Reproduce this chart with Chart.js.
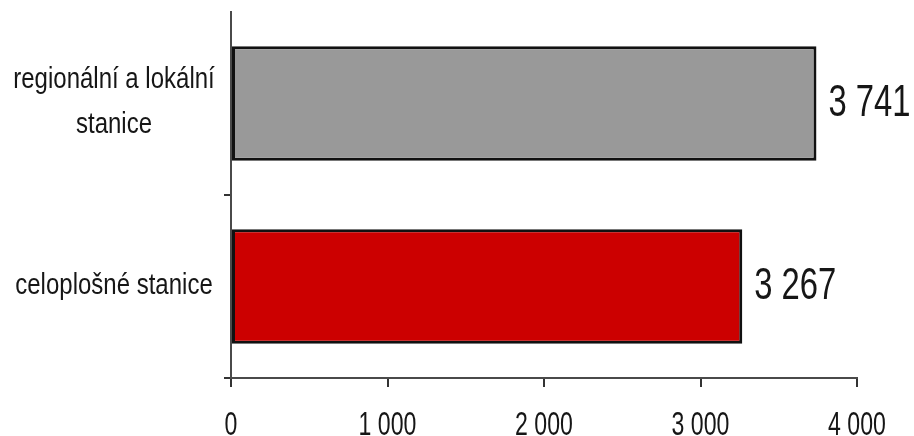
<!DOCTYPE html>
<html>
<head>
    <title>Stanice</title>
    <style>
        html, body { margin: 0; padding: 0; background: #fff; }
        #wrap { width: 914px; height: 436px; }
    </style>
</head>
<body>
    <div id="wrap"><canvas id="chart" width="914" height="436"></canvas></div>

    <script src="https://cdn.jsdelivr.net/npm/chart.js"></script>
    <script>
        const categories = [['regionální a lokální', 'stanice'], 'celoplošné stanice'];
        const values = [3741, 3267];
        const barColors = ['#999999', '#cc0000'];
        const tickValues = [0, 1000, 2000, 3000, 4000];

        const FONT = '"Liberation Sans", Arial, sans-serif';

        // mezera jako oddělovač tisíců
        function fmt(v) {
            return String(v).replace(/\B(?=(\d{3})+(?!\d))/g, ' ');
        }

        // text zúžený vodorovně (jako Arial Narrow)
        function narrowText(ctx, text, x, y, size, sx, align) {
            ctx.save();
            ctx.font = size + 'px ' + FONT;
            ctx.textAlign = align;
            ctx.textBaseline = 'alphabetic';
            ctx.translate(x, y);
            ctx.scale(sx, 1);
            ctx.fillText(text, 0, 0);
            ctx.restore();
        }

        // všechny popisky: osy i hodnoty
        const textLabels = {
            id: 'textLabels',
            afterDraw(chart) {
                const ctx = chart.ctx;
                const xs = chart.scales.x;
                const ys = chart.scales.y;
                const meta = chart.getDatasetMeta(0);
                ctx.save();
                ctx.fillStyle = '#161616';

                tickValues.forEach(v => {
                    narrowText(ctx, fmt(v), xs.getPixelForValue(v), 435, 33, 0.70, 'center');
                });

                categories.forEach((c, i) => {
                    const lines = Array.isArray(c) ? c : [c];
                    const cy = ys.getPixelForValue(i);
                    lines.forEach((line, j) => {
                        const y = cy + 7 + (j - (lines.length - 1) / 2) * 45;
                        narrowText(ctx, line, 114, y, 30, 0.80, 'center');
                    });
                });

                meta.data.forEach((bar, i) => {
                    narrowText(ctx, fmt(values[i]), bar.x + 12, bar.y + 12, 44, 0.745, 'left');
                });
                ctx.restore();
            }
        };

        new Chart(document.getElementById('chart'), {
            type: 'bar',
            data: {
                labels: categories,
                datasets: [{
                    data: values,
                    backgroundColor: barColors,
                    borderColor: '#111',
                    borderWidth: 3,
                    borderSkipped: false,
                    categoryPercentage: 1,
                    barPercentage: 0.625
                }]
            },
            options: {
                indexAxis: 'y',
                responsive: false,
                animation: false,
                layout: { padding: { top: 12, right: 57 } },
                plugins: { legend: { display: false }, tooltip: { enabled: false } },
                scales: {
                    x: {
                        min: 0,
                        max: 4000,
                        afterBuildTicks(scale) {
                            scale.ticks = tickValues.map(v => ({ value: v }));
                        },
                        afterFit(scale) {
                            scale.height = 58;
                            scale.paddingLeft = 0;
                            scale.paddingRight = 0;
                        },
                        border: { color: '#4a4a4a', width: 2 },
                        grid: { drawOnChartArea: false, drawTicks: true, tickLength: 9, color: '#333', lineWidth: 2 },
                        ticks: { display: false }
                    },
                    y: {
                        afterFit(scale) {
                            scale.width = 231;
                            scale.paddingTop = 0;
                            scale.paddingBottom = 0;
                        },
                        border: { color: '#4a4a4a', width: 2 },
                        grid: {
                            drawOnChartArea: false,
                            drawTicks: true,
                            tickLength: 7,
                            lineWidth: 2,
                            offset: true,
                            color: c => c.index === 0 ? 'rgba(0,0,0,0)' : '#333'
                        },
                        ticks: { display: false }
                    }
                }
            },
            plugins: [textLabels]
        });
    </script>
</body>
</html>
